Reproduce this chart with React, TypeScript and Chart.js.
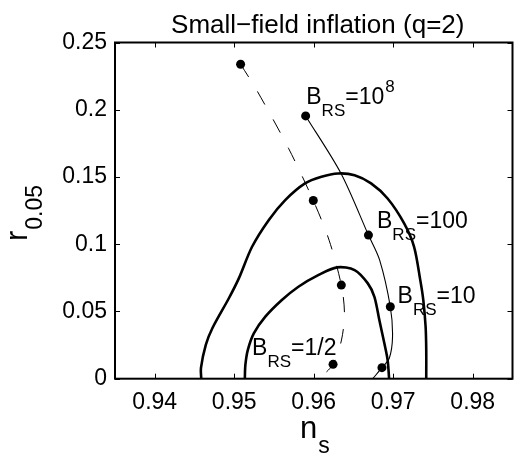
import React, { useEffect, useRef } from "react";
import { Chart, registerables } from "chart.js";

Chart.register(...registerables);

// Axis ticks
const xTicks = [0.94, 0.95, 0.96, 0.97, 0.98];
const yTicks = [0, 0.05, 0.1, 0.15, 0.2, 0.25];

// Outer (95%) contour
const outerX = [0.94585, 0.94581, 0.94643, 0.94726, 0.94934, 0.95059, 0.95224, 0.95433, 0.95641, 0.9589, 0.96097, 0.96305, 0.96514, 0.96721, 0.96929, 0.97137, 0.97262, 0.9734, 0.97378, 0.97407, 0.97415, 0.97415];
const outerY = [0, 0.0079, 0.0253, 0.0377, 0.06, 0.0748, 0.0981, 0.1179, 0.1328, 0.1452, 0.1501, 0.1526, 0.1513, 0.1452, 0.134, 0.1155, 0.0981, 0.0733, 0.0585, 0.0386, 0.0213, 0];

// Inner (68%) contour
const innerX = [0.95133, 0.9514, 0.95171, 0.95246, 0.95391, 0.95599, 0.95807, 0.96056, 0.96293, 0.96514, 0.9668, 0.96763, 0.96825, 0.96888, 0.96929, 0.96948];
const innerY = [0, 0.0102, 0.0214, 0.0337, 0.0461, 0.0585, 0.0684, 0.077, 0.0828, 0.0808, 0.0709, 0.0609, 0.0436, 0.0263, 0.0139, 0];

// Dashed curve
const dashX = [0.9508, 0.95283, 0.95682, 0.95994, 0.96193, 0.96347, 0.96386, 0.96349, 0.96243, 0.96069];
const dashY = [0.2338, 0.2145, 0.1714, 0.1325, 0.103, 0.0696, 0.0488, 0.0288, 0.0107, 0];

// Thin solid curve
const thinX = [0.95898, 0.96343, 0.96688, 0.96829, 0.96963, 0.96991, 0.9695, 0.96858, 0.96742];
const thinY = [0.1954, 0.1526, 0.1068, 0.0882, 0.0535, 0.0312, 0.0152, 0.0082, 0];

// Marked points
const dashDotsX = [0.9508, 0.95994, 0.96347, 0.96243];
const dashDotsY = [0.2338, 0.1325, 0.0696, 0.0107];
const thinDotsX = [0.95898, 0.96688, 0.96963, 0.96858];
const thinDotsY = [0.1954, 0.1068, 0.0535, 0.0082];

// Annotations B_RS = ...
const labelX = [0.95906, 0.96796, 0.97054, 0.95224];
const labelY = [0.2046, 0.1117, 0.056, 0.0176];
const labelValue = ["10", "100", "10", "1/2"];
const labelSup = ["8", "", "", ""];

const titleText = "Small\u2212field inflation (q=2)";
const FONT = "'Liberation Sans', Arial, Helvetica, sans-serif";

const toPts = (xs: number[], ys: number[]) => xs.map((x, i) => ({ x, y: ys[i] }));

export default function App() {
  const ref = useRef<HTMLCanvasElement | null>(null);

  useEffect(() => {
    if (!ref.current) return;

    const decor = {
      id: "decor",
      afterDraw(chart: any) {
        const { ctx, chartArea: a, scales } = chart;
        const xs = scales.x;
        const ys = scales.y;
        ctx.save();
        ctx.strokeStyle = "#000";
        ctx.fillStyle = "#000";
        // box
        ctx.lineWidth = 2;
        ctx.strokeRect(a.left, a.top, a.right - a.left, a.bottom - a.top);
        // inward ticks
        ctx.lineWidth = 1;
        const tl = 5;
        ctx.beginPath();
        for (const v of xTicks) {
          const p = Math.round(xs.getPixelForValue(v)) + 0.5;
          ctx.moveTo(p, a.bottom);
          ctx.lineTo(p, a.bottom - tl);
          ctx.moveTo(p, a.top);
          ctx.lineTo(p, a.top + tl);
        }
        for (const v of yTicks) {
          const p = Math.round(ys.getPixelForValue(v)) + 0.5;
          ctx.moveTo(a.left, p);
          ctx.lineTo(a.left + tl, p);
          ctx.moveTo(a.right, p);
          ctx.lineTo(a.right - tl, p);
        }
        ctx.stroke();

        // title
        ctx.textBaseline = "alphabetic";
        ctx.textAlign = "center";
        ctx.font = `26px ${FONT}`;
        ctx.fillText(titleText, (a.left + a.right) / 2 + 4, 33);

        // x label: n_s
        ctx.textAlign = "left";
        ctx.font = `31px ${FONT}`;
        ctx.fillText("n", 300, 438);
        const nW = ctx.measureText("n").width;
        ctx.font = `23px ${FONT}`;
        ctx.fillText("s", 300 + nW + 1, 453);

        // y label: r_0.05 (rotated)
        ctx.save();
        ctx.translate(27, 241);
        ctx.rotate(-Math.PI / 2);
        ctx.font = `31px ${FONT}`;
        ctx.fillText("r", 0, 0);
        const rW = ctx.measureText("r").width;
        ctx.font = `23px ${FONT}`;
        ctx.fillText("0.05", rW + 1, 15);
        ctx.restore();

        // annotations
        for (let i = 0; i < labelX.length; i++) {
          let px = xs.getPixelForValue(labelX[i]);
          const py = ys.getPixelForValue(labelY[i]);
          ctx.font = `23px ${FONT}`;
          ctx.fillText("B", px, py);
          px += ctx.measureText("B").width;
          ctx.font = `17px ${FONT}`;
          ctx.fillText("RS", px, py + 12);
          px += ctx.measureText("RS").width;
          ctx.font = `23px ${FONT}`;
          const t = "=" + labelValue[i];
          ctx.fillText(t, px, py);
          px += ctx.measureText(t).width;
          if (labelSup[i]) {
            ctx.font = `17px ${FONT}`;
            ctx.fillText(labelSup[i], px + 1, py - 12);
          }
        }
        ctx.restore();
      },
    };

    const chart = new Chart(ref.current, {
      type: "scatter",
      data: {
        datasets: [
          {
            data: toPts(dashDotsX, dashDotsY),
            showLine: false,
            pointRadius: 4.5,
            pointBackgroundColor: "#000",
            pointBorderWidth: 0,
          },
          {
            data: toPts(thinDotsX, thinDotsY),
            showLine: false,
            pointRadius: 4.5,
            pointBackgroundColor: "#000",
            pointBorderWidth: 0,
          },
          {
            data: toPts(outerX, outerY),
            showLine: true,
            borderColor: "#000",
            borderWidth: 2.6,
            pointRadius: 0,
            tension: 0.3,
          },
          {
            data: toPts(innerX, innerY),
            showLine: true,
            borderColor: "#000",
            borderWidth: 2.6,
            pointRadius: 0,
            tension: 0.3,
          },
          {
            data: toPts(dashX, dashY),
            showLine: true,
            borderColor: "#000",
            borderWidth: 1,
            borderDash: [15, 17],
            pointRadius: 0,
            tension: 0.3,
          },
          {
            data: toPts(thinX, thinY),
            showLine: true,
            borderColor: "#000",
            borderWidth: 1.1,
            pointRadius: 0,
            tension: 0.3,
          },
        ],
      },
      options: {
        animation: false,
        responsive: false,
        devicePixelRatio: 1,
        layout: { padding: { top: 42.5, right: 1, left: 0, bottom: 0 } },
        plugins: {
          legend: { display: false },
          tooltip: { enabled: false },
          title: { display: false },
        },
        scales: {
          x: {
            type: "linear",
            min: 0.935,
            max: 0.985,
            grid: { display: false, drawTicks: false },
            border: { display: false },
            afterBuildTicks: (s: any) => {
              s.ticks = xTicks.map((v) => ({ value: v }));
            },
            afterFit: (s: any) => {
              s.height = 78.3;
            },
            ticks: {
              color: "#000",
              font: { family: FONT, size: 23 },
              padding: 10,
              maxRotation: 0,
              autoSkip: false,
              callback: (v: any) => Number(v).toFixed(2),
            },
          },
          y: {
            type: "linear",
            min: 0,
            max: 0.25,
            grid: { display: false, drawTicks: false },
            border: { display: false },
            afterBuildTicks: (s: any) => {
              s.ticks = yTicks.map((v) => ({ value: v }));
            },
            afterFit: (s: any) => {
              s.width = 115;
            },
            ticks: {
              color: "#000",
              font: { family: FONT, size: 23 },
              padding: 8,
              autoSkip: false,
              callback: (v: any) => String(+Number(v).toFixed(2)),
            },
          },
        },
      },
      plugins: [decor],
    } as any);

    return () => chart.destroy();
  }, []);

  return (
    <div style={{ position: "fixed", left: 0, top: 0, width: 517, height: 457, background: "#fff" }}>
      <canvas ref={ref} width={517} height={457} style={{ display: "block" }} />
    </div>
  );
}
